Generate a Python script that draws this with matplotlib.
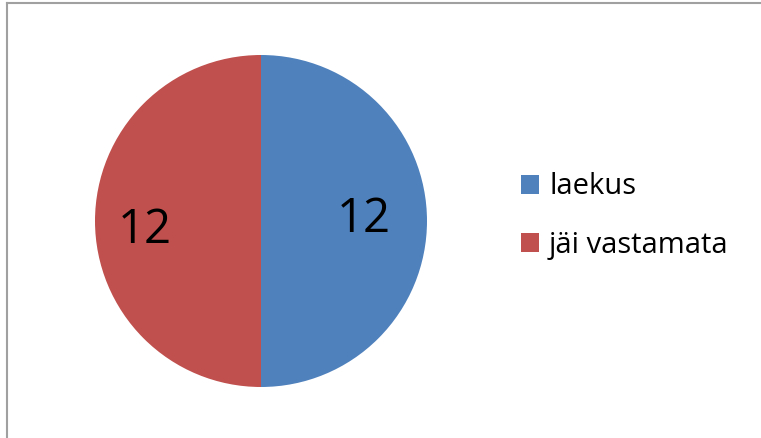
import matplotlib.pyplot as plt
from matplotlib.lines import Line2D
from matplotlib.patches import Patch

labels = ['laekus', 'jäi vastamata']
values = [12, 12]
colors = ['#4F81BD', '#C0504D']

W, H = 761, 438
fig = plt.figure(figsize=(W / 100, H / 100), dpi=100)

# pie centre ~ (261, 221) px, radius ~166 px
r = 166
ax = fig.add_axes([(261 - r) / W, 1 - (221 + r) / H, 2 * r / W, 2 * r / H])
wedges, texts, autotexts = ax.pie(values, colors=colors, startangle=90, counterclock=False,
                                  autopct=lambda p: '%d' % round(p * sum(values) / 100),
                                  radius=1.0, textprops=dict(fontsize=34, color='black',
                                                             family='Open Sans'))
autotexts[0].set_position((0.62, 0.012))
autotexts[1].set_position((-0.70, -0.054))
ax.set_xlim(-1, 1)
ax.set_ylim(-1, 1)
ax.set_aspect('equal')

handles = [Patch(facecolor=c, edgecolor='none') for c in colors]
fig.legend(handles, labels, loc='center left', bbox_to_anchor=(521 / W, 1 - 216 / H),
           frameon=False, prop=dict(family='Open Sans', size=21),
           borderaxespad=0, borderpad=0,
           handlelength=0.62, handleheight=0.62, handletextpad=0.34, labelspacing=1.0)

# chart area border (only top and left visible in the crop)
fig.add_artist(Line2D([6.5 / W, 6.5 / W], [0, 1 - 2.5 / H], transform=fig.transFigure,
                      color='#A0A0A0', lw=1.5))
fig.add_artist(Line2D([6.5 / W, 1], [1 - 2.5 / H, 1 - 2.5 / H], transform=fig.transFigure,
                      color='#A0A0A0', lw=1.5))

plt.savefig('out.png', dpi=100)
